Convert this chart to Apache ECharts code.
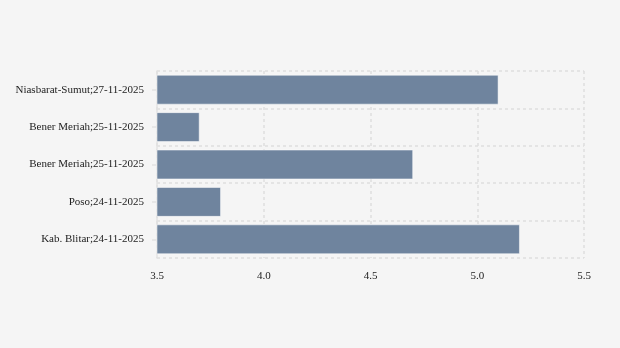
<!DOCTYPE html>
<html>
<head>
<meta charset="utf-8">
<script src="https://cdn.jsdelivr.net/npm/echarts@6/dist/echarts.min.js"></script>
<style>html,body{margin:0;padding:0;background:#f5f5f5;}#c{width:620px;height:348px;}</style>
</head>
<body>
<div id="c"></div>
<script>
var categories = ['Kab. Blitar;24-11-2025', 'Poso;24-11-2025', 'Bener Meriah;25-11-2025', 'Bener Meriah;25-11-2025', 'Niasbarat-Sumut;27-11-2025'];
var values = [5.2, 3.8, 4.7, 3.7, 5.1];
var xMin = 3.5, xMax = 5.5, xInterval = 0.5;

var chart = echarts.init(document.getElementById('c'), null, {renderer: 'canvas'});
var gridLine = {show: true, lineStyle: {color: '#dedede', width: 1.5, type: [3, 3]}};
chart.setOption({
  backgroundColor: '#f5f5f5',
  animation: false,
  textStyle: {fontFamily: 'Liberation Serif'},
  grid: {left: 157, right: 36, top: 71, bottom: 90, containLabel: false},
  xAxis: {
    type: 'value', min: xMin, max: xMax, interval: xInterval,
    axisLine: {show: false}, axisTick: {show: false},
    axisLabel: {color: '#222', fontSize: 11, fontFamily: 'Liberation Serif', margin: 13,
      formatter: function (v) { return v.toFixed(1); }},
    splitLine: gridLine
  },
  yAxis: {
    type: 'category', data: categories,
    axisLine: {show: true, lineStyle: {color: '#e2e2e2', width: 1.5}},
    axisTick: {show: true, alignWithLabel: true, length: 5, lineStyle: {color: '#e2e2e2', width: 1.5}},
    axisLabel: {color: '#222', fontSize: 11, fontFamily: 'Liberation Serif', margin: 13},
    splitLine: gridLine
  },
  series: [{
    type: 'bar', data: values, barCategoryGap: '20%',
    itemStyle: {color: '#6f849e', borderColor: 'rgba(255,255,255,0.5)', borderWidth: 1}
  }]
});
</script>
</body>
</html>
